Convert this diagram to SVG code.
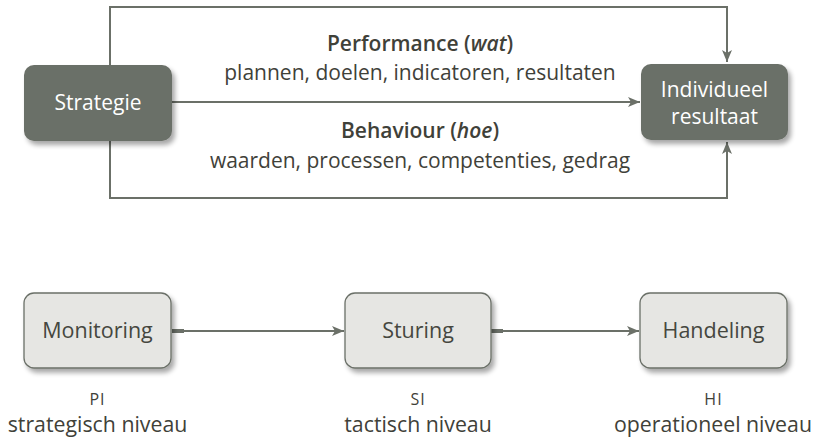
<svg xmlns="http://www.w3.org/2000/svg" width="816" height="441" viewBox="0 0 816 441">
<defs>
<filter id="sh" x="-20%" y="-20%" width="150%" height="160%">
<feGaussianBlur in="SourceAlpha" stdDeviation="2.5"/>
<feOffset dx="3" dy="4" result="b"/>
<feComponentTransfer><feFuncA type="linear" slope="0.35"/></feComponentTransfer>
<feMerge><feMergeNode/><feMergeNode in="SourceGraphic"/></feMerge>
</filter>
<marker id="ah" viewBox="0 0 12 10" refX="12" refY="5" markerWidth="12" markerHeight="10" markerUnits="userSpaceOnUse" orient="auto">
<path d="M0,0 L12,5 L0,10 L3,5 Z" fill="#6b7068"/>
</marker>
</defs>
<style>
.dark{fill:#6b7068;}
.light{fill:#e6e6e3;stroke:#6b7068;stroke-width:1.3;}
.c{fill:none;stroke:#6b7068;stroke-width:2;}
text{font-family:"Open Sans","Liberation Sans",sans-serif;text-anchor:middle;}
.wt{fill:#ffffff;font-size:21px;}
.bt{fill:#45473f;font-size:21.5px;}
.lbl{fill:#3f4139;font-size:21px;}
.lbl2{fill:#3f4139;font-size:21.3px;}
.bold{font-weight:600;}
.sc{fill:#3f4139;font-size:16px;letter-spacing:1px;}
</style>
<rect width="816" height="441" fill="#ffffff"/>
<g id="connectors">
<path class="c" d="M110,65 V7 H727 V62" marker-end="url(#ah)"/>
<path class="c" d="M110,141 V198 H727 V142" marker-end="url(#ah)"/>
<path class="c" d="M172,102 H640" marker-end="url(#ah)"/>
<path class="c" d="M172,331 H344" marker-end="url(#ah)"/>
<path class="c" d="M491,331 H639" marker-end="url(#ah)"/>
<path d="M172,331 H184" stroke="#6b7068" stroke-width="4"/>
<path d="M491,331 H503" stroke="#6b7068" stroke-width="4"/>
</g>
<g id="labels">
<text x="420" y="51" class="lbl"><tspan class="bold">Performance (</tspan><tspan class="bold" font-style="italic">wat</tspan><tspan class="bold">)</tspan></text>
<text x="420" y="80" class="lbl">plannen, doelen, indicatoren, resultaten</text>
<text x="420" y="138" class="lbl"><tspan class="bold">Behaviour (</tspan><tspan class="bold" font-style="italic">hoe</tspan><tspan class="bold">)</tspan></text>
<text x="420" y="168" class="lbl">waarden, processen, competenties, gedrag</text>
</g>
<g id="strategie">
<rect x="24" y="65" width="148" height="76" rx="10" class="dark" filter="url(#sh)"/>
<text x="98" y="110" class="wt">Strategie</text>
</g>
<g id="individueel">
<rect x="641" y="64" width="147" height="76" rx="10" class="dark" filter="url(#sh)"/>
<text x="714.5" y="97" class="wt">Individueel</text>
<text x="714.5" y="124" class="wt">resultaat</text>
</g>
<g id="monitoring">
<rect x="24" y="293" width="147" height="75" rx="10" class="light" filter="url(#sh)"/>
<text x="97.5" y="338" class="bt">Monitoring</text>
<text x="97.5" y="405" class="sc">PI</text>
<text x="97.5" y="432" class="lbl2">strategisch niveau</text>
</g>
<g id="sturing">
<rect x="345" y="293" width="146" height="75" rx="10" class="light" filter="url(#sh)"/>
<text x="418" y="338" class="bt">Sturing</text>
<text x="418" y="405" class="sc">SI</text>
<text x="418" y="432" class="lbl2">tactisch niveau</text>
</g>
<g id="handeling">
<rect x="640" y="293" width="147" height="75" rx="10" class="light" filter="url(#sh)"/>
<text x="713.5" y="338" class="bt">Handeling</text>
<text x="713.5" y="405" class="sc">HI</text>
<text x="713" y="432" class="lbl2">operationeel niveau</text>
</g>
</svg>
